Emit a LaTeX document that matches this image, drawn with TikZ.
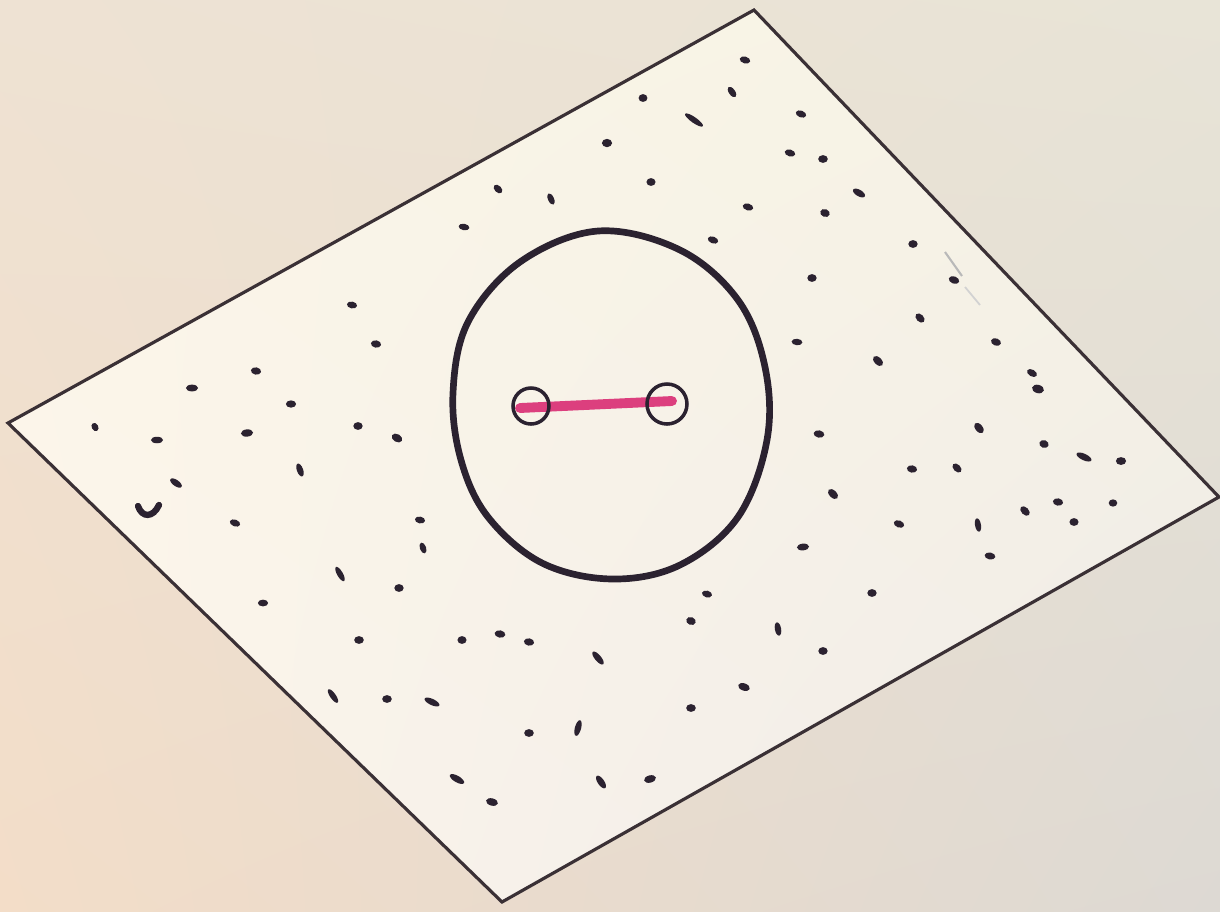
\documentclass[tikz,border=0pt]{standalone}
\usetikzlibrary{shadings}
\definecolor{ink}{HTML}{2B2230}
\definecolor{edge}{HTML}{3A3035}
\definecolor{pinkline}{HTML}{DC3F7E}
\definecolor{bgUL}{HTML}{EEE2D3}
\definecolor{bgUR}{HTML}{E8E4D7}
\definecolor{bgLL}{HTML}{F3DDC8}
\definecolor{bgLR}{HTML}{DDD9D3}
\definecolor{inUL}{HTML}{FBF5E8}
\definecolor{inUR}{HTML}{F6F3E4}
\definecolor{inLL}{HTML}{FDF6EC}
\definecolor{inLR}{HTML}{EEEAE8}
\tikzset{
  paperedge/.style={draw=edge, line width=0.9pt, line join=miter},
  bigring/.style={draw=ink, line width=1.9pt},
  smallring/.style={draw=ink, line width=1pt},
  bond/.style={draw=pinkline, line width=2.8pt, line cap=round},
  speck/.style={fill=ink}
}
\begin{document}
\begin{tikzpicture}[x=0.01cm,y=-0.01cm]
\useasboundingbox (0,0) rectangle (1220,911);
% background paper
\shade[upper left=bgUL, upper right=bgUR, lower left=bgLL, lower right=bgLR] (0,0) rectangle (1220,911);
% parallelogram sheet
\coordinate (L) at (8,423);
\coordinate (T) at (754,10);
\coordinate (R) at (1219,497);
\coordinate (B) at (502,902);
\begin{scope}
  \clip (L) -- (T) -- (R) -- (B) -- cycle;
  \shade[upper left=inUL, upper right=inUR, lower left=inLL, lower right=inLR] (0,0) rectangle (1220,911);
\end{scope}
\draw[paperedge] (L) -- (T) -- (R) -- (B) -- cycle;
% faint tick mark
\draw[gray!55, line width=0.6pt] (945,252) -- (962,276);
\draw[gray!35, line width=0.5pt] (965,287) -- (980,305);
% specks
\foreach \x/\y/\a/\b/\r in {
745/60/4/2.6/-15, 732/92/4.5/2.4/-55, 643/98/3.3/3/0, 694/120/8/2.2/-35,
801/114/4/2.6/-20, 607/143/3.8/3.2/0, 790/153/4/2.6/-15, 498/189/3.8/2.6/-45,
551/199/4.5/2.3/-65, 651/182/3.4/3/0, 748/207/4/2.6/-15, 464/227/4/2.5/-10,
713/240/4/2.6/-20, 812/278/3.5/3/0, 823/159/3.6/3/0, 859/193/5/2.5/-30,
825/213/3.6/3/-20, 913/244/3.5/3/0, 954/280/4/2.8/-20, 352/305/3.8/2.6/-10,
376/344/3.8/2.8/-10, 256/371/3.8/2.8/-10, 192/388/4.5/2.6/0, 291/404/3.8/2.8/0,
95/427/3.2/2.5/-60, 157/440/4.5/2.5/0, 247/433/4.5/2.8/5, 358/426/3.5/3/0,
397/438/4.2/3/-30, 300/470/5/2.4/-70, 176/483/5/2.4/-35, 235/523/4/2.6/-20,
340/574/6/2.2/-60, 399/588/3.5/3/0, 263/603/3.8/2.6/0, 420/520/3.8/2.6/-10,
423/548/4.2/2.4/-70, 359/640/3.6/3/0, 333/696/6/2.2/-55, 387/699/3.6/3/0,
797/342/4/2.5/-5, 920/318/4/2.8/-45, 996/342/3.8/2.8/-20, 878/361/4.5/2.8/-45,
1032/373/4/2.6/-30, 1038/389/4.5/3.2/-15, 819/434/4/2.8/-10, 979/428/4.5/2.8/-50,
1044/444/3.5/3/-20, 1084/457/6/2.5/-25, 1121/461/3.8/3/0, 912/469/3.8/2.8/-10,
957/468/4/2.7/-45, 833/494/4.5/2.8/-45, 1025/511/4.2/2.8/-45, 1058/502/3.8/2.8/-10,
1113/503/3.2/2.8/0, 899/524/4/2.7/-20, 978/525/5/2.3/-80, 1074/522/3.4/3/0,
803/547/4.5/2.6/5, 990/556/4/2.7/-10, 872/593/3.5/3/0, 707/594/3.8/2.6/-15,
462/640/3.4/3/0, 500/634/4/2.8/-10, 529/642/3.8/2.8/-10, 598/658/6/2.4/-50,
691/621/3.6/3/-20, 778/629/5/2.4/-80, 432/702/6/2.4/-25, 529/733/3.6/3/0,
578/728/6/2.4/75, 691/708/3.6/3/0, 744/687/4.5/2.8/-20, 457/779/6/2.5/-30,
492/802/4.5/2.8/-15, 601/782/5.5/2.5/-55, 650/779/4.5/2.8/15, 823/651/3.5/3/0}
{
  \fill[speck, rotate around={\r:(\x,\y)}] (\x,\y) ellipse [x radius=1.35*\a, y radius=1.3*\b];
}
% curved speck
\draw[ink, line width=1.8pt, line cap=round] (138,506) .. controls (142,518) and (153,518) .. (159,505);
% big circle
\draw[bigring] plot[smooth cycle, tension=0.6] coordinates {
(598,231) (680,250) (738,300) (765,367) (767,440) (738,517) (680,565)
(612,579) (542,563) (488,517) (461,460) (453,393) (468,322) (520,262)};
% pink bond and small rings
\coordinate (P1) at (531,406);
\coordinate (P2) at (667,404);
\draw[bond] (520,408) -- (672,401);
\draw[smallring] (P1) circle [radius=18];
\draw[smallring] (P2) circle [radius=20];
\end{tikzpicture}
\end{document}
